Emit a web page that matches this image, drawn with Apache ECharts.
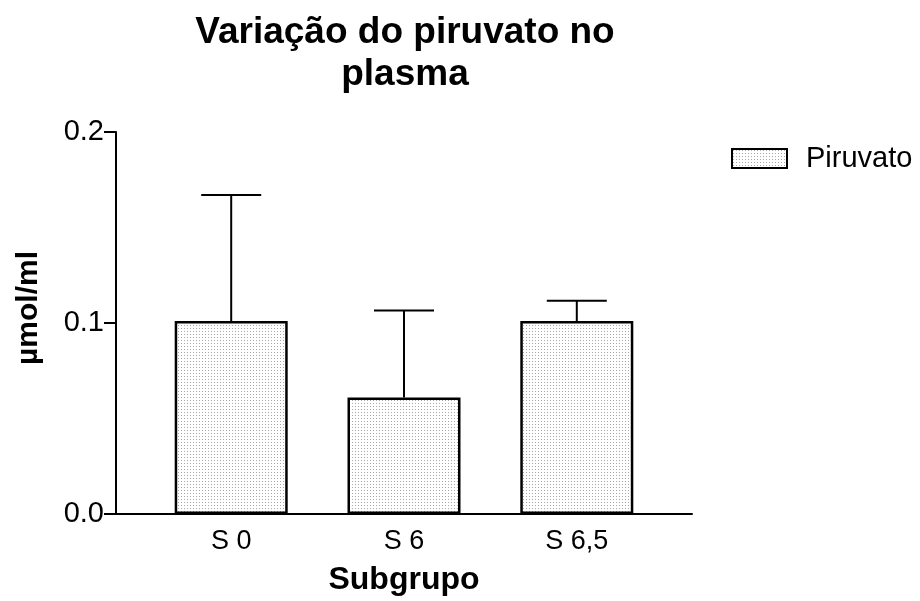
<!DOCTYPE html>
<html>
<head>
<meta charset="utf-8">
<script src="https://cdn.jsdelivr.net/npm/echarts@6/dist/echarts.min.js"></script>
<style>
html,body{margin:0;padding:0;background:#fff;}
#chart{width:920px;height:601px;}
</style>
</head>
<body>
<div id="chart"></div>
<script>
const categories = ['S 0', 'S 6', 'S 6,5'];
const means = [0.101, 0.061, 0.101];
const errors = [0.066, 0.0455, 0.0106];
const yTicks = [0, 0.1, 0.2];
const seriesName = 'Piruvato';

const FONT = '"Liberation Sans", Arial, sans-serif';

// dotted pattern fill
const pat = document.createElement('canvas');
pat.width = 3; pat.height = 3;
const pctx = pat.getContext('2d');
pctx.fillStyle = '#ffffff';
pctx.fillRect(0, 0, 3, 3);
pctx.fillStyle = '#a8a8a8';
pctx.fillRect(1, 1, 1, 1);

const barData = categories.map((c, i) => [i, means[i]]);
const errData = categories.map((c, i) => [i, means[i], means[i] + errors[i]]);

const chart = echarts.init(document.getElementById('chart'), null, {renderer: 'canvas'});
chart.setOption({
  backgroundColor: '#ffffff',
  animation: false,
  title: {
    text: 'Variação do piruvato no\nplasma',
    left: 400,
    textAlign: 'center',
    top: 7,
    textStyle: {fontFamily: FONT, fontSize: 37, fontWeight: 'bold', color: '#000', lineHeight: 42}
  },
  legend: {
    left: 726,
    top: 139,
    itemWidth: 55,
    itemHeight: 19,
    icon: 'rect',
    data: [seriesName],
    textStyle: {fontFamily: FONT, fontSize: 29, color: '#000', padding: [0, 0, 0, 14]}
  },
  grid: {left: 116, right: 228, top: 132, bottom: 86, containLabel: false},
  xAxis: {
    type: 'value',
    min: -2/3,
    max: categories.length - 1 + 2/3,
    name: 'Subgrupo',
    nameLocation: 'middle',
    nameGap: 50,
    nameTextStyle: {fontFamily: FONT, fontSize: 32, fontWeight: 'bold', color: '#000'},
    splitLine: {show: false},
    axisLine: {show: true, onZero: false, lineStyle: {color: '#000', width: 2}},
    axisTick: {show: false},
    axisLabel: {
      customValues: categories.map((c, i) => i),
      formatter: v => categories[Math.round(v)] || '',
      fontFamily: FONT, fontSize: 27, color: '#000', margin: 14
    }
  },
  yAxis: {
    type: 'value',
    min: 0,
    max: 0.2,
    interval: 0.1,
    name: 'µmol/ml',
    nameLocation: 'middle',
    nameRotate: 90,
    nameGap: 72,
    nameTextStyle: {fontFamily: FONT, fontSize: 30, fontWeight: 'bold', color: '#000', padding: [0, 0, 0, 30]},
    splitLine: {show: false},
    axisLine: {show: true, onZero: false, lineStyle: {color: '#000', width: 2}},
    axisTick: {show: true, length: 12, customValues: yTicks, lineStyle: {color: '#000', width: 2}},
    axisLabel: {
      customValues: yTicks,
      formatter: v => v.toFixed(1),
      fontFamily: FONT, fontSize: 29, color: '#000', margin: 12
    }
  },
  series: [
    {
      name: seriesName,
      type: 'bar',
      data: barData,
      barWidth: 113,
      itemStyle: {color: {image: pat, repeat: 'repeat'}, borderColor: '#000', borderWidth: 2.5},
      z: 2
    },
    {
      name: 'err',
      type: 'custom',
      data: errData,
      z: 3,
      renderItem: function (params, api) {
        const x = api.value(0);
        const base = api.coord([x, api.value(1)]);
        const top = api.coord([x, api.value(2)]);
        const hw = 30;
        return {
          type: 'group',
          children: [
            {type: 'line', shape: {x1: base[0], y1: base[1], x2: top[0], y2: top[1]}, style: {stroke: '#000', lineWidth: 2}},
            {type: 'line', shape: {x1: top[0] - hw, y1: top[1], x2: top[0] + hw, y2: top[1]}, style: {stroke: '#000', lineWidth: 2}}
          ]
        };
      }
    }
  ]
});
</script>
</body>
</html>
